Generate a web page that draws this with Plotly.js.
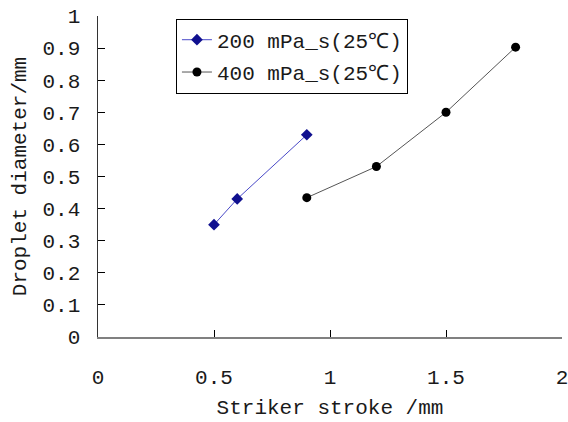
<!DOCTYPE html>
<html><head><meta charset="utf-8">
<script src="https://cdn.plot.ly/plotly-3.0.1.min.js"></script>
<style>html,body{margin:0;padding:0;background:#fff}#c{width:568px;height:422px}</style>
</head><body><div id="c"></div>
<script>
const x200 = [0.5, 0.6, 0.9];
const y200 = [0.35, 0.43, 0.63];
const x400 = [0.9, 1.2, 1.5, 1.8];
const y400 = [0.434, 0.531, 0.70, 0.903];
const name200 = '200 mPa_s(25℃)';
const name400 = '400 mPa_s(25℃)';
const xTicks = [0, 0.5, 1, 1.5, 2];
const xTickText = ['0', '0.5', '1', '1.5', '2'];
const yTicks = [0, 0.1, 0.2, 0.3, 0.4, 0.5, 0.6, 0.7, 0.8, 0.9, 1];
const yTickText = ['0', '0.1', '0.2', '0.3', '0.4', '0.5', '0.6', '0.7', '0.8', '0.9', '1'];

const F = 'Liberation Mono, DejaVu Sans Mono, monospace';
const traces = [
  {x: x200, y: y200, name: name200, mode: 'lines+markers', legendgroup: 'a',
   line: {color: '#4a4ac8', width: 1}, marker: {symbol: 'diamond', size: 9, color: '#10108f'}},
  {x: x400, y: y400, name: name400, mode: 'lines+markers', legendgroup: 'b',
   line: {color: '#555555', width: 1}, marker: {symbol: 'circle', size: 9, color: '#000000'}}
];
const layout = {
  width: 568, height: 422,
  margin: {l: 98, r: 6, t: 16, b: 85},
  paper_bgcolor: '#fff', plot_bgcolor: '#fff',
  font: {family: F, size: 21, color: '#1a1a1a'},
  showlegend: true,
  legend: {x: 0.168, y: 0.992, xanchor: 'left', yanchor: 'top', bordercolor: '#000', borderwidth: 1,
           bgcolor: '#fff', traceorder: 'grouped', tracegroupgap: 2, font: {family: F, size: 21, color: '#1a1a1a'}},
  xaxis: {range: [0, 2], tickvals: xTicks, ticktext: xTickText, ticks: 'inside', ticklen: 7,
          tickcolor: '#000', showline: true, linecolor: '#808080', linewidth: 1.5, showgrid: false,
          zeroline: false, ticklabelstandoff: 20, ticklabeloverflow: 'allow',
          title: {text: 'Striker stroke /mm', standoff: 10, font: {family: F, size: 21, color: '#1a1a1a'}}},
  yaxis: {range: [0, 1], tickvals: yTicks, ticktext: yTickText, ticks: 'inside', ticklen: 7,
          tickcolor: '#000', showline: true, linecolor: '#333', linewidth: 1.5, showgrid: false,
          zeroline: false, ticklabelstandoff: 12,
          title: {text: 'Droplet diameter/mm', standoff: 10, font: {family: F, size: 21, color: '#1a1a1a'}}}
};
Plotly.newPlot('c', traces, layout, {displayModeBar: false, staticPlot: true});
</script></body></html>
